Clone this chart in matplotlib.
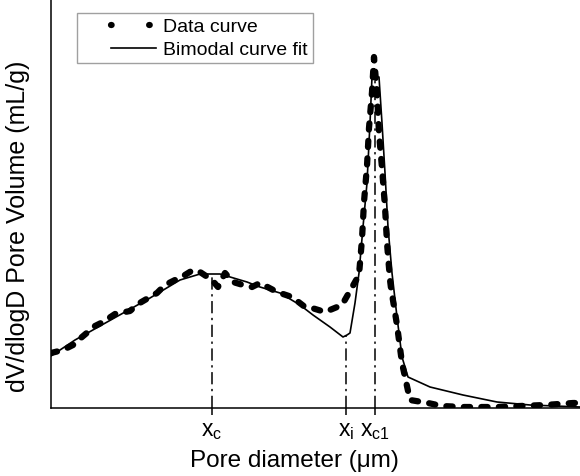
import numpy as np
import matplotlib
matplotlib.use("Agg")
import matplotlib.pyplot as plt
from matplotlib.lines import Line2D
from matplotlib.legend_handler import HandlerLine2D

plt.rcParams["font.family"] = ["Liberation Sans", "DejaVu Sans"]
plt.rcParams["mathtext.fontset"] = "custom"
plt.rcParams["mathtext.rm"] = "Liberation Sans"
plt.rcParams["mathtext.it"] = "Liberation Sans"

# Measured pore size distribution (arbitrary units)
data_x = [0, 12, 22, 31, 44, 52, 64, 79, 87, 99, 106, 114, 124, 129, 142, 149,
          161, 167, 174, 182, 192, 201, 209, 226, 241, 254, 261, 274, 291,
          308, 311, 313, 316, 318, 321, 323, 326, 328, 331, 334, 336, 339, 340,
          346, 351, 359, 377, 391, 412, 426, 446, 469, 494, 522, 529]
data_y = [55, 58, 63, 71, 82, 86, 94, 97, 104, 111, 115, 123, 128, 130, 138, 136,
          128, 121, 135, 126, 123, 121, 125, 116, 111, 101, 100, 96, 103,
          133, 169, 206, 242, 280, 316, 351, 315, 275, 240, 201, 165, 128, 120,
          83, 45, 8, 5, 2, 1, 1, 1, 2, 3, 5, 5]

# Bimodal fit
fit_x = [0, 24, 49, 74, 99, 114, 129, 149, 169, 196, 209, 229, 249, 262, 279,
         292, 296, 299, 304, 308, 312, 316, 319, 321, 328, 331, 334, 337, 341,
         346, 351, 357, 379, 412, 446, 479, 529]
fit_y = [52, 68, 82, 96, 110, 119, 128, 134, 134, 126, 121, 115, 103, 93, 81,
         71, 73, 75, 105, 135, 181, 225, 285, 331, 331, 285, 235, 181, 135,
         91, 51, 31, 21, 13, 6, 3, 1]

# Characteristic diameters
peak_pos = [161, 295, 324]
peak_top = [134, 72, 335]
peak_labels = [r"$\mathregular{x_c}$", r"$\mathregular{x_i}$", r"$\mathregular{x_{c1}}$"]

fig = plt.figure(figsize=(5.8, 4.76), dpi=100)
ax = fig.add_axes([51 / 580, 68 / 476, 529 / 580, 408 / 476])

data_lw = 4.5
ax.plot(data_x, data_y, color="black", lw=data_lw, linestyle=(0, (1.0, 1.8)),
        dash_capstyle="round", solid_capstyle="round", zorder=3)
ax.plot(fit_x, fit_y, color="black", lw=1.2, zorder=4)

for xp, yt in zip(peak_pos, peak_top):
    ax.vlines(xp, 0, yt, colors="black", lw=1.1, linestyles=(0, (8, 3, 1.5, 3)), zorder=2)

ax.set_xlim(0, 529)
ax.set_ylim(0, 408)
ax.set_xticks(peak_pos)
ax.set_xticklabels(peak_labels, fontsize=16.5)
ax.set_yticks([])
ax.tick_params(axis="x", direction="out", length=5, width=1.1, pad=3)
for side in ("top", "right"):
    ax.spines[side].set_visible(False)
for side in ("left", "bottom"):
    ax.spines[side].set_linewidth(1.1)

ax.set_xlabel("Pore diameter (μm)", fontsize=17.5)
ax.xaxis.set_label_coords(0.461, -0.102)
ax.set_ylabel("dV/dlogD Pore Volume (mL/g)", fontsize=18)
ax.yaxis.set_label_coords(-0.040, 0.446)


class RightHandler(HandlerLine2D):
    """Draw the legend sample only over the right part of the handle box."""
    def __init__(self, frac, **kw):
        super().__init__(**kw)
        self.frac = frac

    def get_xdata(self, legend, xdescent, ydescent, width, height, fontsize):
        x0 = -xdescent + self.frac * width
        x1 = -xdescent + width
        return np.array([x0, x1]), np.array([x0, x1])


h_data = Line2D([], [], color="black", lw=data_lw, linestyle=(0, (0.1, 6.0)),
                dash_capstyle="round")
h_fit = Line2D([], [], color="black", lw=1.2)
leg = ax.legend([h_data, h_fit], ["Data curve", "Bimodal curve fit"],
                loc="upper left", bbox_to_anchor=(0.049, 0.968), borderaxespad=0,
                fontsize=14, handlelength=3.8, handletextpad=0.4,
                fancybox=False, frameon=True, borderpad=0.25, labelspacing=0.28,
                handler_map={h_data: RightHandler(0.4), h_fit: RightHandler(0.4)})
leg.get_frame().set_edgecolor("#888888")
leg.get_frame().set_linewidth(1.0)

fig.savefig("out.png", dpi=100)
